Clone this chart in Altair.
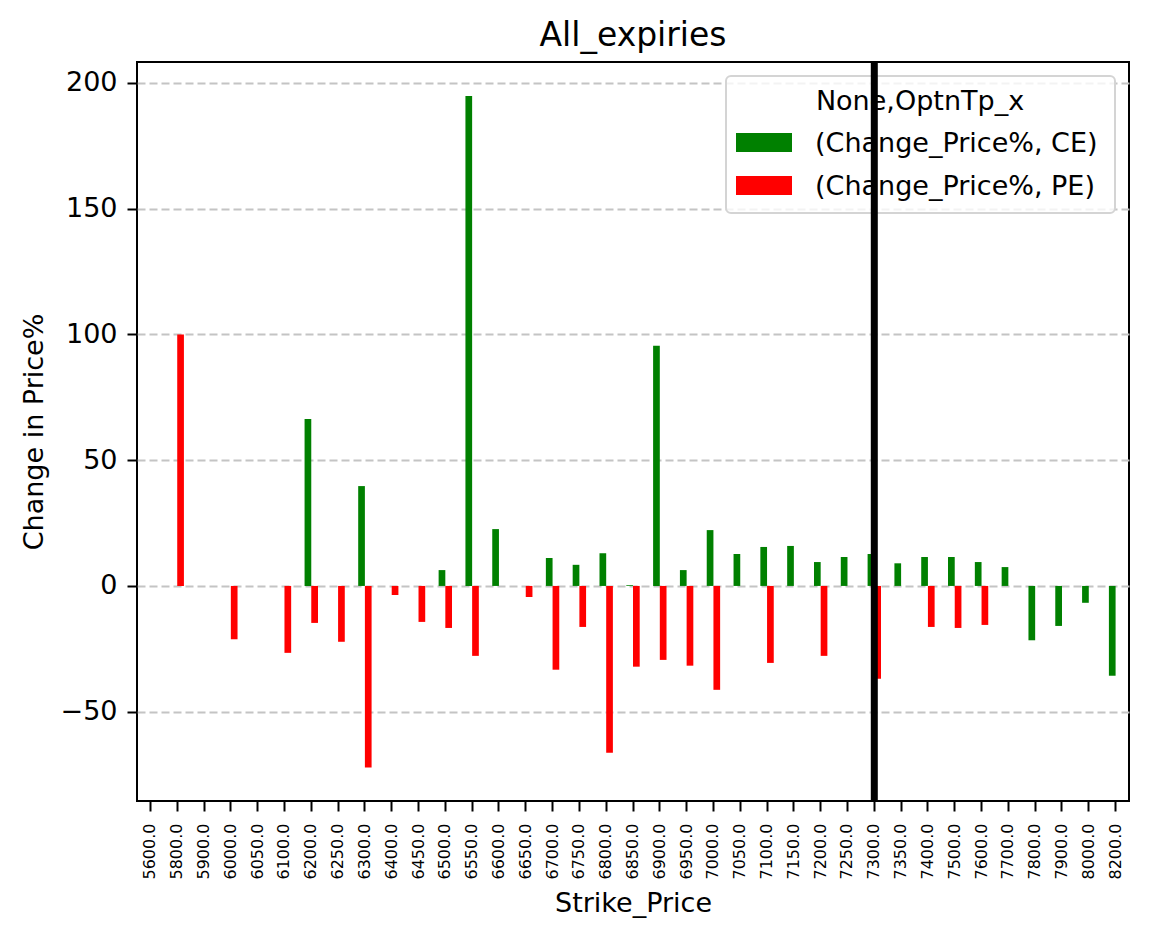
import altair as alt
import pandas as pd

# ---- data ----
strikes = ["5600.0", "5800.0", "5900.0", "6000.0", "6050.0", "6100.0", "6200.0", "6250.0",
           "6300.0", "6400.0", "6450.0", "6500.0", "6550.0", "6600.0", "6650.0", "6700.0",
           "6750.0", "6800.0", "6850.0", "6900.0", "6950.0", "7000.0", "7050.0", "7100.0",
           "7150.0", "7200.0", "7250.0", "7300.0", "7350.0", "7400.0", "7500.0", "7600.0",
           "7700.0", "7800.0", "7900.0", "8000.0", "8200.0"]

ce_change = [None, None, None, None, None, None, 66.4, None,
             39.7, None, None, 6.3, 194.8, 22.6, None, 11.1,
             8.4, 13.0, 0.3, 95.5, 6.3, 22.2, 12.7, 15.5,
             15.9, 9.5, 11.5, 12.7, 9.0, 11.5, 11.5, 9.5,
             7.5, -21.6, -15.9, -6.7, -35.7]

pe_change = [None, 100.0, None, -21.2, None, -26.6, -14.7, -22.2,
             -72.2, -3.6, -14.3, -16.7, -27.8, None, -4.4, -33.3,
             -16.3, -66.3, -32.1, -29.4, -31.7, -41.3, None, -30.6,
             None, -27.8, None, -36.9, None, -16.3, -16.7, -15.5,
             None, None, None, None, None]

series = ["CE", "PE"]
series_colors = ["green", "red"]
atm_strike = "7300.0"
legend_title = "None,OptnTp_x"
y_ticks = [-50, 0, 50, 100, 150, 200]

rows = []
for s, vals in zip(series, [ce_change, pe_change]):
    for k, v in zip(strikes, vals):
        if v is not None:
            rows.append({"Strike_Price": k, "OptnTp_x": s, "Change": v})
df = pd.DataFrame(rows)

FONT = "DejaVu Sans"
W, H = 992, 739

x_enc = alt.X(
    "Strike_Price:N",
    scale=alt.Scale(domain=strikes, paddingInner=0, paddingOuter=0),
    axis=alt.Axis(
        title="Strike_Price", labelAngle=270, labelAlign="right", labelBaseline="middle",
        labelFontSize=16, labelPadding=12, labelColor="black",
        tickSize=10, tickWidth=2, tickColor="black", domain=False, bandPosition=0.5,
        titleFontSize=27, titleFontWeight="normal", titleColor="black",
        titleY=110, titleBaseline="alphabetic",
    ),
)

y_enc = alt.Y(
    "Change:Q",
    scale=alt.Scale(domain=[-85.5, 208.3], nice=False, zero=False),
    axis=alt.Axis(
        title="Change in Price%", values=y_ticks, labelFontSize=27, labelPadding=10,
        labelColor="black", tickSize=10, tickWidth=2, tickColor="black", domain=False,
        grid=True, gridDash=[8, 4], gridColor="#c4c4c4", gridWidth=2,
        titleFontSize=27, titleFontWeight="normal", titleColor="black",
        titleX=-95, titleY=H / 2, titleAngle=270, titleBaseline="alphabetic",
        titleAlign="center",
    ),
)

bars = alt.Chart(df).mark_bar().encode(
    x=x_enc,
    y=y_enc,
    xOffset=alt.XOffset("OptnTp_x:N",
                        scale=alt.Scale(domain=series, paddingInner=0, paddingOuter=1)),
    color=alt.Color("OptnTp_x:N", scale=alt.Scale(domain=series, range=series_colors),
                    legend=None),
)

# ---- legend (drawn as layers so the ATM line can pass over it) ----
leg_box = alt.Chart(pd.DataFrame({"t": [legend_title]})).mark_rect(
    fill="white", fillOpacity=0.8, stroke="#d4d4d4", strokeWidth=2, cornerRadius=5
).encode(x=alt.value(589), x2=alt.value(978), y=alt.value(14), y2=alt.value(151))

leg_title = alt.Chart(pd.DataFrame({"t": [legend_title]})).mark_text(
    font=FONT, fontSize=27, align="center", baseline="alphabetic", color="black"
).encode(x=alt.value(783), y=alt.value(48), text="t:N")

legend_layers = [leg_box, leg_title]
for i, (s, c) in enumerate(zip(series, series_colors)):
    top = 71 + 43 * i
    ldf = pd.DataFrame({"label": [f"(Change_Price%, {s})"]})
    legend_layers.append(
        alt.Chart(ldf).mark_rect(color=c).encode(
            x=alt.value(599), x2=alt.value(655), y=alt.value(top), y2=alt.value(top + 19))
    )
    legend_layers.append(
        alt.Chart(ldf).mark_text(font=FONT, fontSize=27, align="left",
                                 baseline="alphabetic", color="black").encode(
            x=alt.value(678), y=alt.value(top + 19), text="label:N")
    )

atm = alt.Chart(pd.DataFrame({"Strike_Price": [atm_strike]})).mark_rule(
    color="black", strokeWidth=7
).encode(x=x_enc)

chart = alt.layer(bars, *legend_layers, atm).properties(
    width=W, height=H,
    title=alt.TitleParams("All_expiries", font=FONT, fontSize=33, fontWeight="normal",
                          anchor="middle", baseline="alphabetic", offset=15, dy=35,
                          color="black"),
    padding={"left": 137, "top": 62, "right": 20, "bottom": 138},
    autosize=alt.AutoSizeParams(type="none"),
).configure(font=FONT).configure_view(stroke="black", strokeWidth=2)

chart.save("out.html", embed_options={"renderer": "svg", "actions": False})
